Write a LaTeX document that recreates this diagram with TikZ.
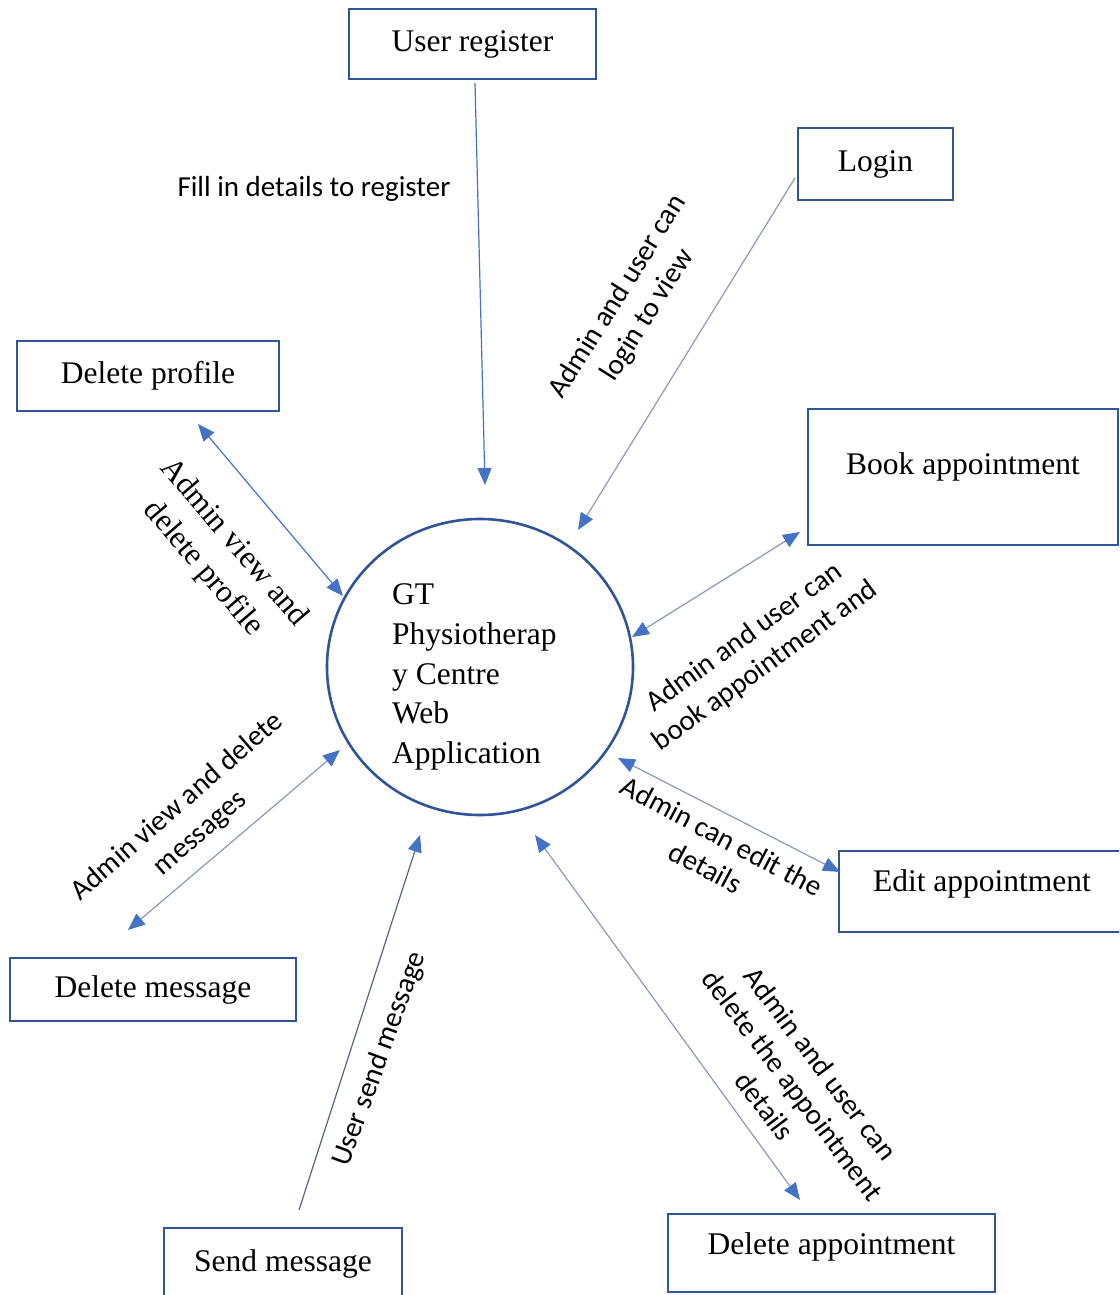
\documentclass[tikz,border=0pt]{standalone}
\usepackage{fontspec}
\usetikzlibrary{arrows.meta,shapes.geometric}
\newfontfamily\tnrfont{Liberation Serif}
\newfontfamily\calfont{Carlito}
\definecolor{boxblue}{HTML}{2F5597}
\definecolor{tipblue}{HTML}{4472C4}
\definecolor{lineblue}{HTML}{4472C4}
\definecolor{linegray}{HTML}{8C99B2}
\definecolor{linedark}{HTML}{56657F}
\begin{document}
\begin{tikzpicture}[x=1pt,y=-1pt,
  box/.style={draw=boxblue,line width=2pt,inner sep=0pt,font=\tnrfont\fontsize{31.5}{38}\selectfont},
  lbl/.style={font=\calfont\fontsize{29}{35}\selectfont,align=center,inner sep=0pt},
  tlbl/.style={font=\tnrfont\fontsize{31.5}{40}\selectfont,align=center,inner sep=0pt},
  con/.style={line width=1.2pt},
  tip/.style={-{Triangle[length=17pt,width=14pt,color=tipblue]}},
  dtip/.style={{Triangle[length=17pt,width=14pt,color=tipblue]}-{Triangle[length=17pt,width=14pt,color=tipblue]}}
]
\useasboundingbox (0,0) rectangle (1119,1295);
\clip (0,0) rectangle (1119,1295);

% process
\node[draw=boxblue,line width=2.6pt,ellipse,minimum width=306pt,minimum height=296pt,inner sep=0pt] (c) at (480,667) {};
\node[font=\tnrfont\fontsize{31.5}{39.75}\selectfont,align=left,inner sep=0pt,anchor=west] (ct) at (392,677) {GT\\Physiotherap\\y Centre\\Web\\Application};

% boxes
\node[box,minimum width=247pt,minimum height=70pt] (ur) at (472.5,44) {User register};
\node[box,minimum width=155pt,minimum height=72pt] (login) at (875.5,164) {Login};
\node[box,minimum width=262pt,minimum height=70pt] (dp) at (148,376) {Delete profile};
\node[box,minimum width=310pt,minimum height=136pt,text depth=26pt] (book) at (963,477) {Book appointment};
\node[box,minimum width=286pt,minimum height=81pt,text depth=21pt] (edit) at (982,891.5) {Edit appointment};
\node[box,minimum width=286pt,minimum height=63pt] (dm) at (153,989.5) {Delete message};
\node[box,minimum width=238pt,minimum height=72pt] (sm) at (283,1264) {Send message};
\node[box,minimum width=327pt,minimum height=78pt,text depth=19pt] (da) at (831.5,1253) {Delete appointment};

% connector end points
\coordinate (ur1) at (475,83);   \coordinate (ur2) at (485,485);
\coordinate (lg1) at (795,178);  \coordinate (lg2) at (578,530);
\coordinate (dp1) at (198,424);  \coordinate (dp2) at (343,596);
\coordinate (bk1) at (800,532);  \coordinate (bk2) at (632,637);
\coordinate (ed1) at (618,758);  \coordinate (ed2) at (840,872);
\coordinate (dm1) at (340,750);  \coordinate (dm2) at (128,930);
\coordinate (sm1) at (299,1210); \coordinate (sm2) at (420,835);
\coordinate (da1) at (535,835);  \coordinate (da2) at (800,1200);

% connectors
\draw[con,lineblue,tip] (ur1) -- (ur2);
\draw[con,linegray,tip] (lg1) -- (lg2);
\draw[con,lineblue,dtip] (dp1) -- (dp2);
\draw[con,linegray,dtip] (bk1) -- (bk2);
\draw[con,linegray,dtip] (ed1) -- (ed2);
\draw[con,linegray,dtip] (dm1) -- (dm2);
\draw[con,linedark,tip] (sm1) -- (sm2);
\draw[con,linegray,dtip] (da1) -- (da2);

% labels
\node[lbl] (l1) at (314,189) {Fill in details to register};
\node[lbl,rotate=58] (l2) at (633,306) {Admin and user can\\login to view};
\node[tlbl,rotate=-49.5] (l3) at (218,556) {Admin view and\\delete profile};
\node[lbl,rotate=36] (l4) at (755,652) {Admin and user can\\book appointment and};
\node[lbl,rotate=-28] (l5) at (714,852) {Admin can edit the\\details};
\node[lbl,rotate=41] (l6) at (189,820) {Admin view and delete\\messages};
\node[lbl,rotate=70] (l7) at (380,1059) {User send message};
\node[lbl,rotate=-53] (l8) at (793,1085) {Admin and user can\\delete the appointment\\details};
\end{tikzpicture}
\end{document}
